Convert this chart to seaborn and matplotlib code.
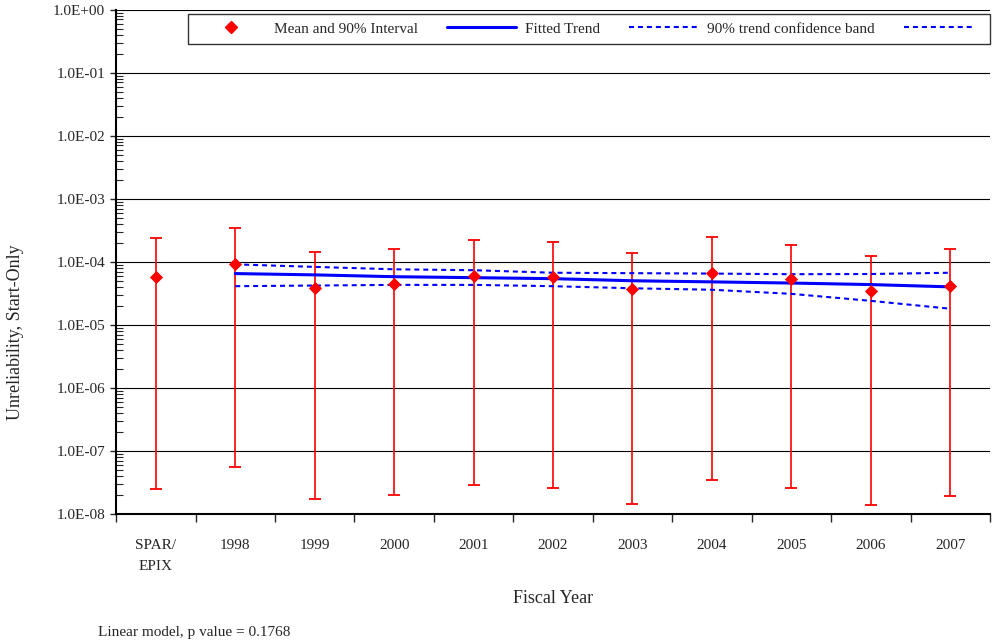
import numpy as np
import pandas as pd
import seaborn as sns
import matplotlib.pyplot as plt
from matplotlib.lines import Line2D
from matplotlib.ticker import LogLocator, FixedLocator, NullFormatter

# Dados
categories = ["SPAR/\nEPIX", "1998", "1999", "2000", "2001", "2002",
              "2003", "2004", "2005", "2006", "2007"]
mean_vals = [5.7e-5, 9.1e-5, 3.9e-5, 4.4e-5, 5.9e-5, 5.7e-5,
             3.7e-5, 6.6e-5, 5.3e-5, 3.4e-5, 4.1e-5]
upper_vals = [2.37e-4, 3.4e-4, 1.42e-4, 1.58e-4, 2.2e-4, 2.05e-4,
              1.37e-4, 2.46e-4, 1.84e-4, 1.23e-4, 1.58e-4]
lower_vals = [2.5e-8, 5.6e-8, 1.74e-8, 2.0e-8, 2.9e-8, 2.6e-8,
              1.45e-8, 3.4e-8, 2.6e-8, 1.4e-8, 1.9e-8]

trend_years = ["1998", "1999", "2000", "2001", "2002",
               "2003", "2004", "2005", "2006", "2007"]
trend_vals = [6.5e-5, 6.2e-5, 5.8e-5, 5.6e-5, 5.4e-5,
              5.0e-5, 4.8e-5, 4.6e-5, 4.35e-5, 4.0e-5]
band_upper = [9.1e-5, 8.3e-5, 7.6e-5, 7.35e-5, 6.7e-5,
              6.6e-5, 6.5e-5, 6.35e-5, 6.4e-5, 6.7e-5]
band_lower = [4.1e-5, 4.2e-5, 4.3e-5, 4.3e-5, 4.1e-5,
              3.8e-5, 3.6e-5, 3.1e-5, 2.4e-5, 1.8e-5]

ytick_labels = ["1.0E-08", "1.0E-07", "1.0E-06", "1.0E-05",
                "1.0E-04", "1.0E-03", "1.0E-02", "1.0E-01", "1.0E+00"]

sns.set_style("white")
plt.rcParams['font.family'] = ['Liberation Serif', 'DejaVu Serif']

pos = {c: i for i, c in enumerate(categories)}
pts = pd.DataFrame({"x": [pos[c] for c in categories], "mean": mean_vals,
                    "low": lower_vals, "high": upper_vals})
trend = pd.DataFrame({"x": [pos[y] for y in trend_years], "fit": trend_vals,
                      "up": band_upper, "lo": band_lower})

dash = (0, (2.4, 1.9))

fig = plt.figure(figsize=(9.92, 6.44), dpi=100)
ax = fig.add_axes([0.117, 0.202, 0.881, 0.783])

# intervalos de 90%
ax.errorbar(pts["x"], pts["mean"],
            yerr=[pts["mean"] - pts["low"], pts["high"] - pts["mean"]],
            fmt="none", ecolor="red", elinewidth=1.2, capsize=4, capthick=1.3, zorder=3)

sns.lineplot(data=trend, x="x", y="fit", color="blue", linewidth=2.2, ax=ax, zorder=4)
sns.lineplot(data=trend, x="x", y="up", color="blue", linewidth=1.5,
             linestyle=dash, ax=ax, zorder=4)
sns.lineplot(data=trend, x="x", y="lo", color="blue", linewidth=1.5,
             linestyle=dash, ax=ax, zorder=4)
sns.scatterplot(data=pts, x="x", y="mean", marker="D", color="red", s=45,
                edgecolor="red", linewidth=0, ax=ax, zorder=5)

ax.set_yscale("log")
ax.set_ylim(1e-8, 1e0)
ax.set_xlim(-0.5, len(categories) - 0.5)
ax.yaxis.set_major_locator(FixedLocator([10.0 ** k for k in range(-8, 1)]))
ax.set_yticklabels(ytick_labels)
ax.yaxis.set_minor_locator(LogLocator(base=10, subs=np.arange(2, 10), numticks=20))
ax.yaxis.set_minor_formatter(NullFormatter())
ax.tick_params(axis="y", which="major", left=True, direction="out", length=4,
               width=1, labelsize=11, pad=4)
ax.tick_params(axis="y", which="minor", left=True, direction="in", length=5, width=0.8)

ax.set_xticks(range(len(categories)))
ax.set_xticklabels(categories, fontsize=11, linespacing=1.8)
ax.xaxis.set_minor_locator(FixedLocator(np.arange(-0.5, len(categories), 1.0)))
ax.tick_params(axis="x", which="major", length=0, pad=18)
ax.tick_params(axis="x", which="minor", bottom=True, direction="out", length=6, width=1)

ax.grid(True, axis="y", which="major", color="black", linewidth=0.8)
ax.grid(False, axis="x")
for side in ["top", "right"]:
    ax.spines[side].set_visible(False)
for side in ["left", "bottom"]:
    ax.spines[side].set_color("black")
    ax.spines[side].set_linewidth(1.5)

ax.set_xlabel("Fiscal Year", fontsize=13, labelpad=12)
ax.set_ylabel("Unreliability, Start-Only", fontsize=13)
ax.yaxis.set_label_coords(-0.105, 0.36)

handles = [
    Line2D([], [], marker="D", color="red", linestyle="none", markersize=6),
    Line2D([], [], color="blue", linewidth=2.2),
    Line2D([], [], color="blue", linewidth=1.5, linestyle=dash),
    Line2D([], [], color="blue", linewidth=1.5, linestyle=dash),
]
labels = ["Mean and 90% Interval", "Fitted Trend", "90% trend confidence band", ""]
leg = ax.legend(handles, labels, ncol=4, loc="upper left",
                bbox_to_anchor=(0.082, 0.9345, 0.918, 0.0575), mode="expand",
                frameon=True, fancybox=False, fontsize=11, handlelength=4.5,
                columnspacing=1.0, handletextpad=0.6, borderpad=0.55,
                borderaxespad=0)
leg.get_frame().set_edgecolor("black")
leg.get_frame().set_linewidth(1)

fig.text(0.099, 0.012, "Linear model, p value = 0.1768", fontsize=11)

fig.savefig("out.png", dpi=100)
